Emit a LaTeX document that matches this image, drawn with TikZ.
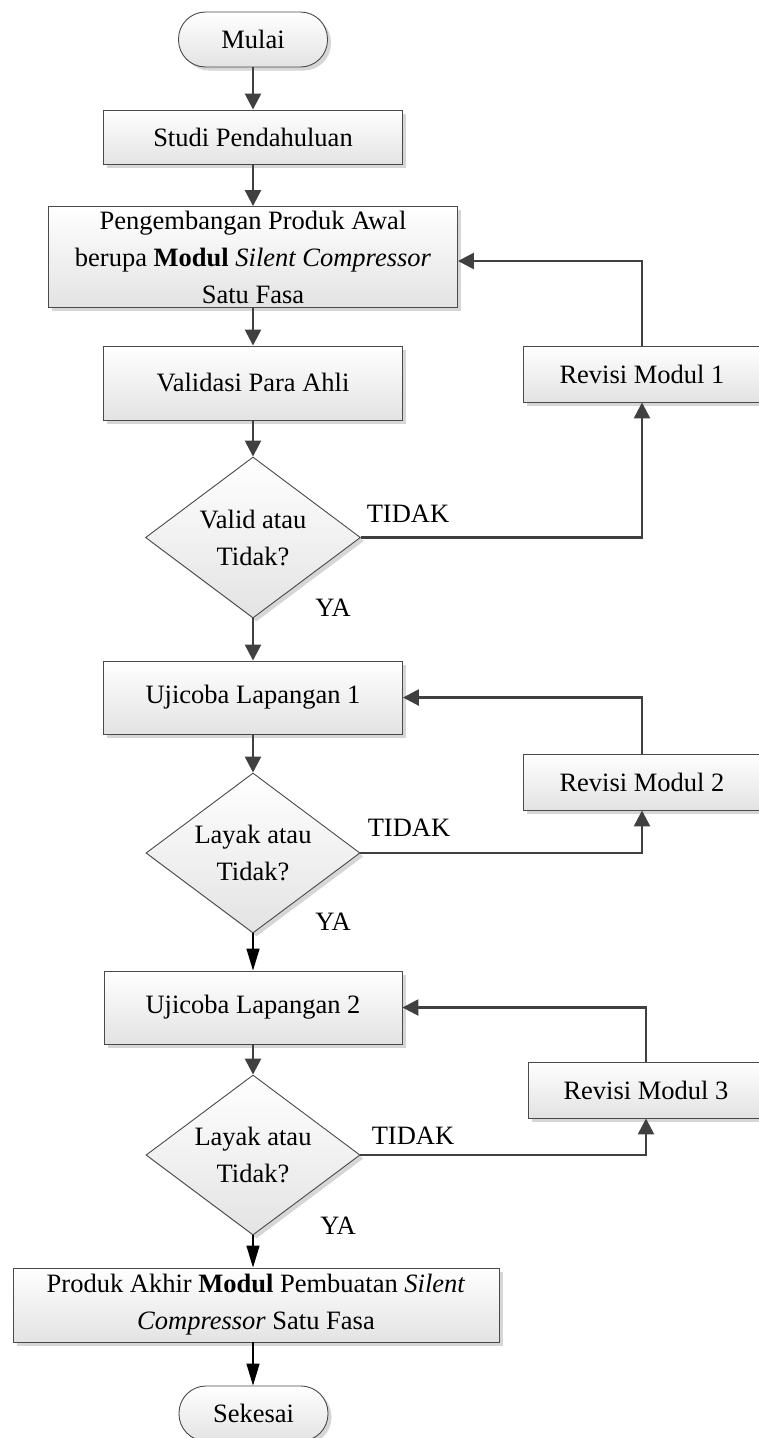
\documentclass[tikz,border=0pt]{standalone}
\usepackage{fontspec}
\setmainfont{Liberation Serif}
\usetikzlibrary{shapes.geometric,shadows,arrows.meta}
\definecolor{conncol}{HTML}{404040}
\definecolor{edgecol}{HTML}{4A4A4A}
\begin{document}
\begin{tikzpicture}[x=1pt,y=-1pt,
  font=\fontsize{26.5}{37}\selectfont,
  base/.style={draw=edgecol, line width=0.9pt, top color=white, bottom color=black!11,
    drop shadow={shadow xshift=3.5pt, shadow yshift=-3.5pt, fill=black!16, opacity=1},
    inner sep=0pt, align=center},
  procbox/.style={base, rectangle, minimum width=#1},
  procbox/.default=299pt,
  termbox/.style={base, rectangle, rounded corners=27pt, minimum width=149pt, minimum height=55pt},
  decbox/.style={base, diamond, shape aspect=1.34, minimum width=214pt, minimum height=160pt},
  conn/.style={draw=conncol, line width=2.6pt, -{Triangle[length=16pt,width=16pt]}},
  connb/.style={draw=black, line width=1.4pt, -{Triangle[length=22pt,width=13pt]}},
  lbl/.style={inner sep=0pt}
]
\useasboundingbox (0,0) rectangle (759,1438);

% main column
\node[termbox] (mulai) at (253,39.5) {Mulai};
\node[procbox, minimum height=54pt] (studi) at (253,137) {Studi Pendahuluan};
\node[procbox=409pt, minimum height=101pt] (peng) at (253,257)
  {Pengembangan Produk Awal\\berupa \textbf{Modul} \textit{Silent Compressor}\\Satu Fasa};
\node[procbox, minimum height=74pt] (valid) at (253,383) {Validasi Para Ahli};
\node[decbox, minimum width=215pt, minimum height=161pt] (d1) at (253,537.5) {Valid atau\\Tidak?};
\node[procbox, minimum height=73pt] (uji1) at (253,697.5) {Ujicoba Lapangan 1};
\node[decbox] (d2) at (253,853) {Layak atau\\Tidak?};
\node[procbox=298pt, minimum height=73pt] (uji2) at (253,1007.5) {Ujicoba Lapangan 2};
\node[decbox] (d3) at (253,1155) {Layak atau\\Tidak?};
\node[procbox=486pt, minimum height=74pt] (final) at (256,1305)
  {Produk Akhir \textbf{Modul} Pembuatan \textit{Silent}\\\textit{Compressor} Satu Fasa};
\node[termbox] (sek) at (253.5,1413.5) {Sekesai};

% revision boxes
\node[procbox=238pt, minimum height=56pt] (r1) at (642,374) {Revisi Modul 1};
\node[procbox=238pt, minimum height=56pt] (r2) at (642,782) {Revisi Modul 2};
\node[procbox=236pt, minimum height=56pt] (r3) at (646,1090) {Revisi Modul 3};

% labels
\node[lbl] (t1) at (408,514) {TIDAK};
\node[lbl] (y1) at (333,608) {YA};
\node[lbl] (t2) at (409,828) {TIDAK};
\node[lbl] (y2) at (333,922) {YA};
\node[lbl] (t3) at (413,1136) {TIDAK};
\node[lbl] (y3) at (338,1226) {YA};

% main flow
\draw[conn] (mulai) -- (mulai |- studi.north);
\draw[conn] (studi) -- (studi |- peng.north);
\draw[conn] (peng) -- (peng |- valid.north);
\draw[conn] (valid) -- (d1.north);
\draw[conn] (d1.south) -- (uji1.north);
\draw[conn] (uji1) -- (d2.north);
\draw[connb] (d2.south) -- (uji2.north);
\draw[conn] (uji2) -- (d3.north);
\draw[connb] (d3.south) -- (d3.south |- final.north);
\draw[connb] (d3.south |- final.south) -- (d3.south |- sek.north);

% loops
\draw[conn] (d1.east) -| (r1.south);
\draw[conn] (r1.north) |- ([yshift=-4pt]peng.east);
\draw[conn] (d2.east) -| (r2.south);
\draw[conn] (r2.north) |- (uji1.east);
\draw[conn] (d3.east) -| (r3.south);
\draw[conn] (r3.north) |- (uji2.east);
\end{tikzpicture}
\end{document}
